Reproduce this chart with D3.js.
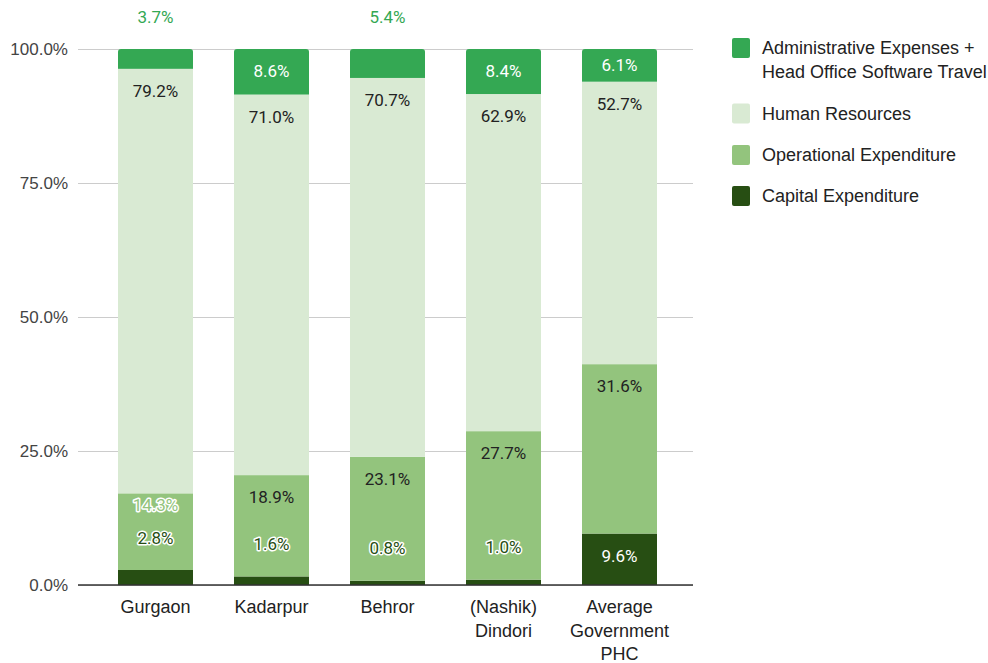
<!DOCTYPE html>
<html lang="en">
<head>
    <meta charset="UTF-8">
    <title>Cost breakdown</title>
    <script src="https://cdn.jsdelivr.net/npm/d3@7"></script>
    <style>
        body{ margin:0; background:#fff; }
        svg{ display:block; }
    </style>
</head>
<body>
    <svg id="container" width="988" height="663"></svg>
<script>
    // data (percent of total)
    let categories = ["Gurgaon", "Kadarpur", "Behror", "(Nashik)\nDindori", "Average\nGovernment\nPHC"]
    let seriesNames = ["Capital Expenditure", "Operational Expenditure", "Human Resources", "Administrative Expenses +\nHead Office Software Travel"]
    let capital     = [2.8, 1.6, 0.8, 1.0, 9.6]
    let operational = [14.3, 18.9, 23.1, 27.7, 31.6]
    let human       = [79.2, 71.0, 70.7, 62.9, 52.7]
    let admin       = [3.7, 8.6, 5.4, 8.4, 6.1]
    let yTicks = [0, 25, 50, 75, 100]

    let colors = ["#274e13", "#93c47d", "#d9ead3", "#34a853"]
    let insideText = ["#fff", "#222", "#222", "#fff"]

    let series = [capital, operational, human, admin]
    let data = categories.map((c, i) => {
        let row = {name: c}
        series.forEach((s, k) => row["s" + k] = s[i])
        return row
    })
    let keys = series.map((s, k) => "s" + k)
    let stacked = d3.stack().keys(keys)(data)

    let svg = d3.select("#container")
    let y = d3.scaleLinear().domain([0, 100]).range([585, 49])
    let x = d3.scaleBand().domain(categories).range([97.5, 677.5]).paddingInner(0.353).paddingOuter(0.1765)

    // grid + y labels
    let yaxis = d3.axisLeft(y).tickValues(yTicks).tickSize(-615).tickFormat(d => d.toFixed(1) + "%")
    svg.append("g")
        .attr("transform", "translate(78,0)")
        .call(yaxis)
        .call(g => g.select(".domain").remove())
        .call(g => g.selectAll("line").attr("stroke", "#ccc"))
        .call(g => g.selectAll("text").attr("x", -10).attr("fill", "#444")
            .attr("font-family", "Liberation Sans, Arial").attr("font-size", 17))

    // bars, each clipped to a rounded top
    let defs = svg.append("defs")
    data.forEach((d, i) => {
        let top = Math.min(100, d3.sum(series, s => s[i]))
        defs.append("clipPath").attr("id", "clip" + i)
            .append("rect")
            .attr("x", x(d.name)).attr("width", x.bandwidth())
            .attr("y", y(top)).attr("height", y(0) - y(top) + 6)
            .attr("rx", 3)
    })

    let layers = svg.append("g").selectAll("g").data(stacked).enter().append("g")
        .attr("fill", (d, k) => colors[k])
    layers.selectAll("rect").data(d => d).enter().append("rect")
        .attr("clip-path", (d, i) => "url(#clip" + i + ")")
        .attr("x", d => x(d.data.name))
        .attr("width", x.bandwidth())
        .attr("y", d => y(Math.min(100, d[1])))
        .attr("height", d => y(d[0]) - y(Math.min(100, d[1])))

    // baseline
    svg.append("line").attr("x1", 78).attr("x2", 693).attr("y1", y(0)).attr("y2", y(0))
        .attr("stroke", "#333").attr("stroke-width", 1.5)

    // data labels: near segment top, or pushed above when the segment is too thin
    let labels = []
    data.forEach((d, i) => {
        let lastY = Infinity
        stacked.forEach((layer, k) => {
            let seg = layer[i]
            let top = y(Math.min(100, seg[1])), h = y(seg[0]) - top
            let ly, halo = false
            if (h >= 30) ly = top + Math.min(22, h / 2)
            else { ly = top - 32.5; halo = true }
            if (ly > lastY - 33) { ly = lastY - 33; halo = true }
            lastY = ly
            labels.push({x: x(d.name) + x.bandwidth() / 2, y: ly, k: k, halo: halo, text: series[k][i].toFixed(1) + "%"})
        })
    })
    svg.append("g").selectAll("text").data(labels).enter().append("text")
        .attr("x", d => d.x).attr("y", d => d.y)
        .attr("dy", "0.36em")
        .attr("text-anchor", "middle")
        .attr("font-family", "Roboto")
        .attr("font-size", 17)
        .attr("fill", d => d.halo ? colors[d.k] : insideText[d.k])
        .attr("stroke", d => d.halo ? "#fff" : "none")
        .attr("stroke-width", 3)
        .attr("stroke-linejoin", "round")
        .attr("paint-order", "stroke")
        .text(d => d.text)

    // x labels
    let xl = svg.append("g").selectAll("text").data(categories).enter().append("text")
        .attr("x", d => x(d) + x.bandwidth() / 2)
        .attr("y", 613)
        .attr("text-anchor", "middle")
        .attr("font-family", "Liberation Sans, Arial")
        .attr("font-size", 18)
        .attr("fill", "#222")
    xl.selectAll("tspan").data(d => d.split("\n")).enter().append("tspan")
        .attr("x", function() { return this.parentNode.getAttribute("x") })
        .attr("dy", (d, j) => j ? 23.5 : 0)
        .text(d => d)

    // legend, top series first
    let legendOrder = [3, 2, 1, 0]
    let legendY = [48, 113.5, 155, 196]
    let lg = svg.append("g").selectAll("g").data(legendOrder).enter().append("g")
        .attr("transform", (k, j) => "translate(732," + legendY[j] + ")")
    lg.append("rect").attr("x", 0).attr("y", -10).attr("width", 18).attr("height", 20).attr("rx", 2)
        .attr("fill", k => colors[k])
    let lt = lg.append("text").attr("x", 30)
        .attr("font-family", "Liberation Sans, Arial").attr("font-size", 18).attr("fill", "#222")
    lt.selectAll("tspan").data(k => seriesNames[k].split("\n")).enter().append("tspan")
        .attr("x", 30).attr("dy", (d, j) => j ? "24px" : "0.35em")
        .text(d => d)
</script>
</body>
</html>
